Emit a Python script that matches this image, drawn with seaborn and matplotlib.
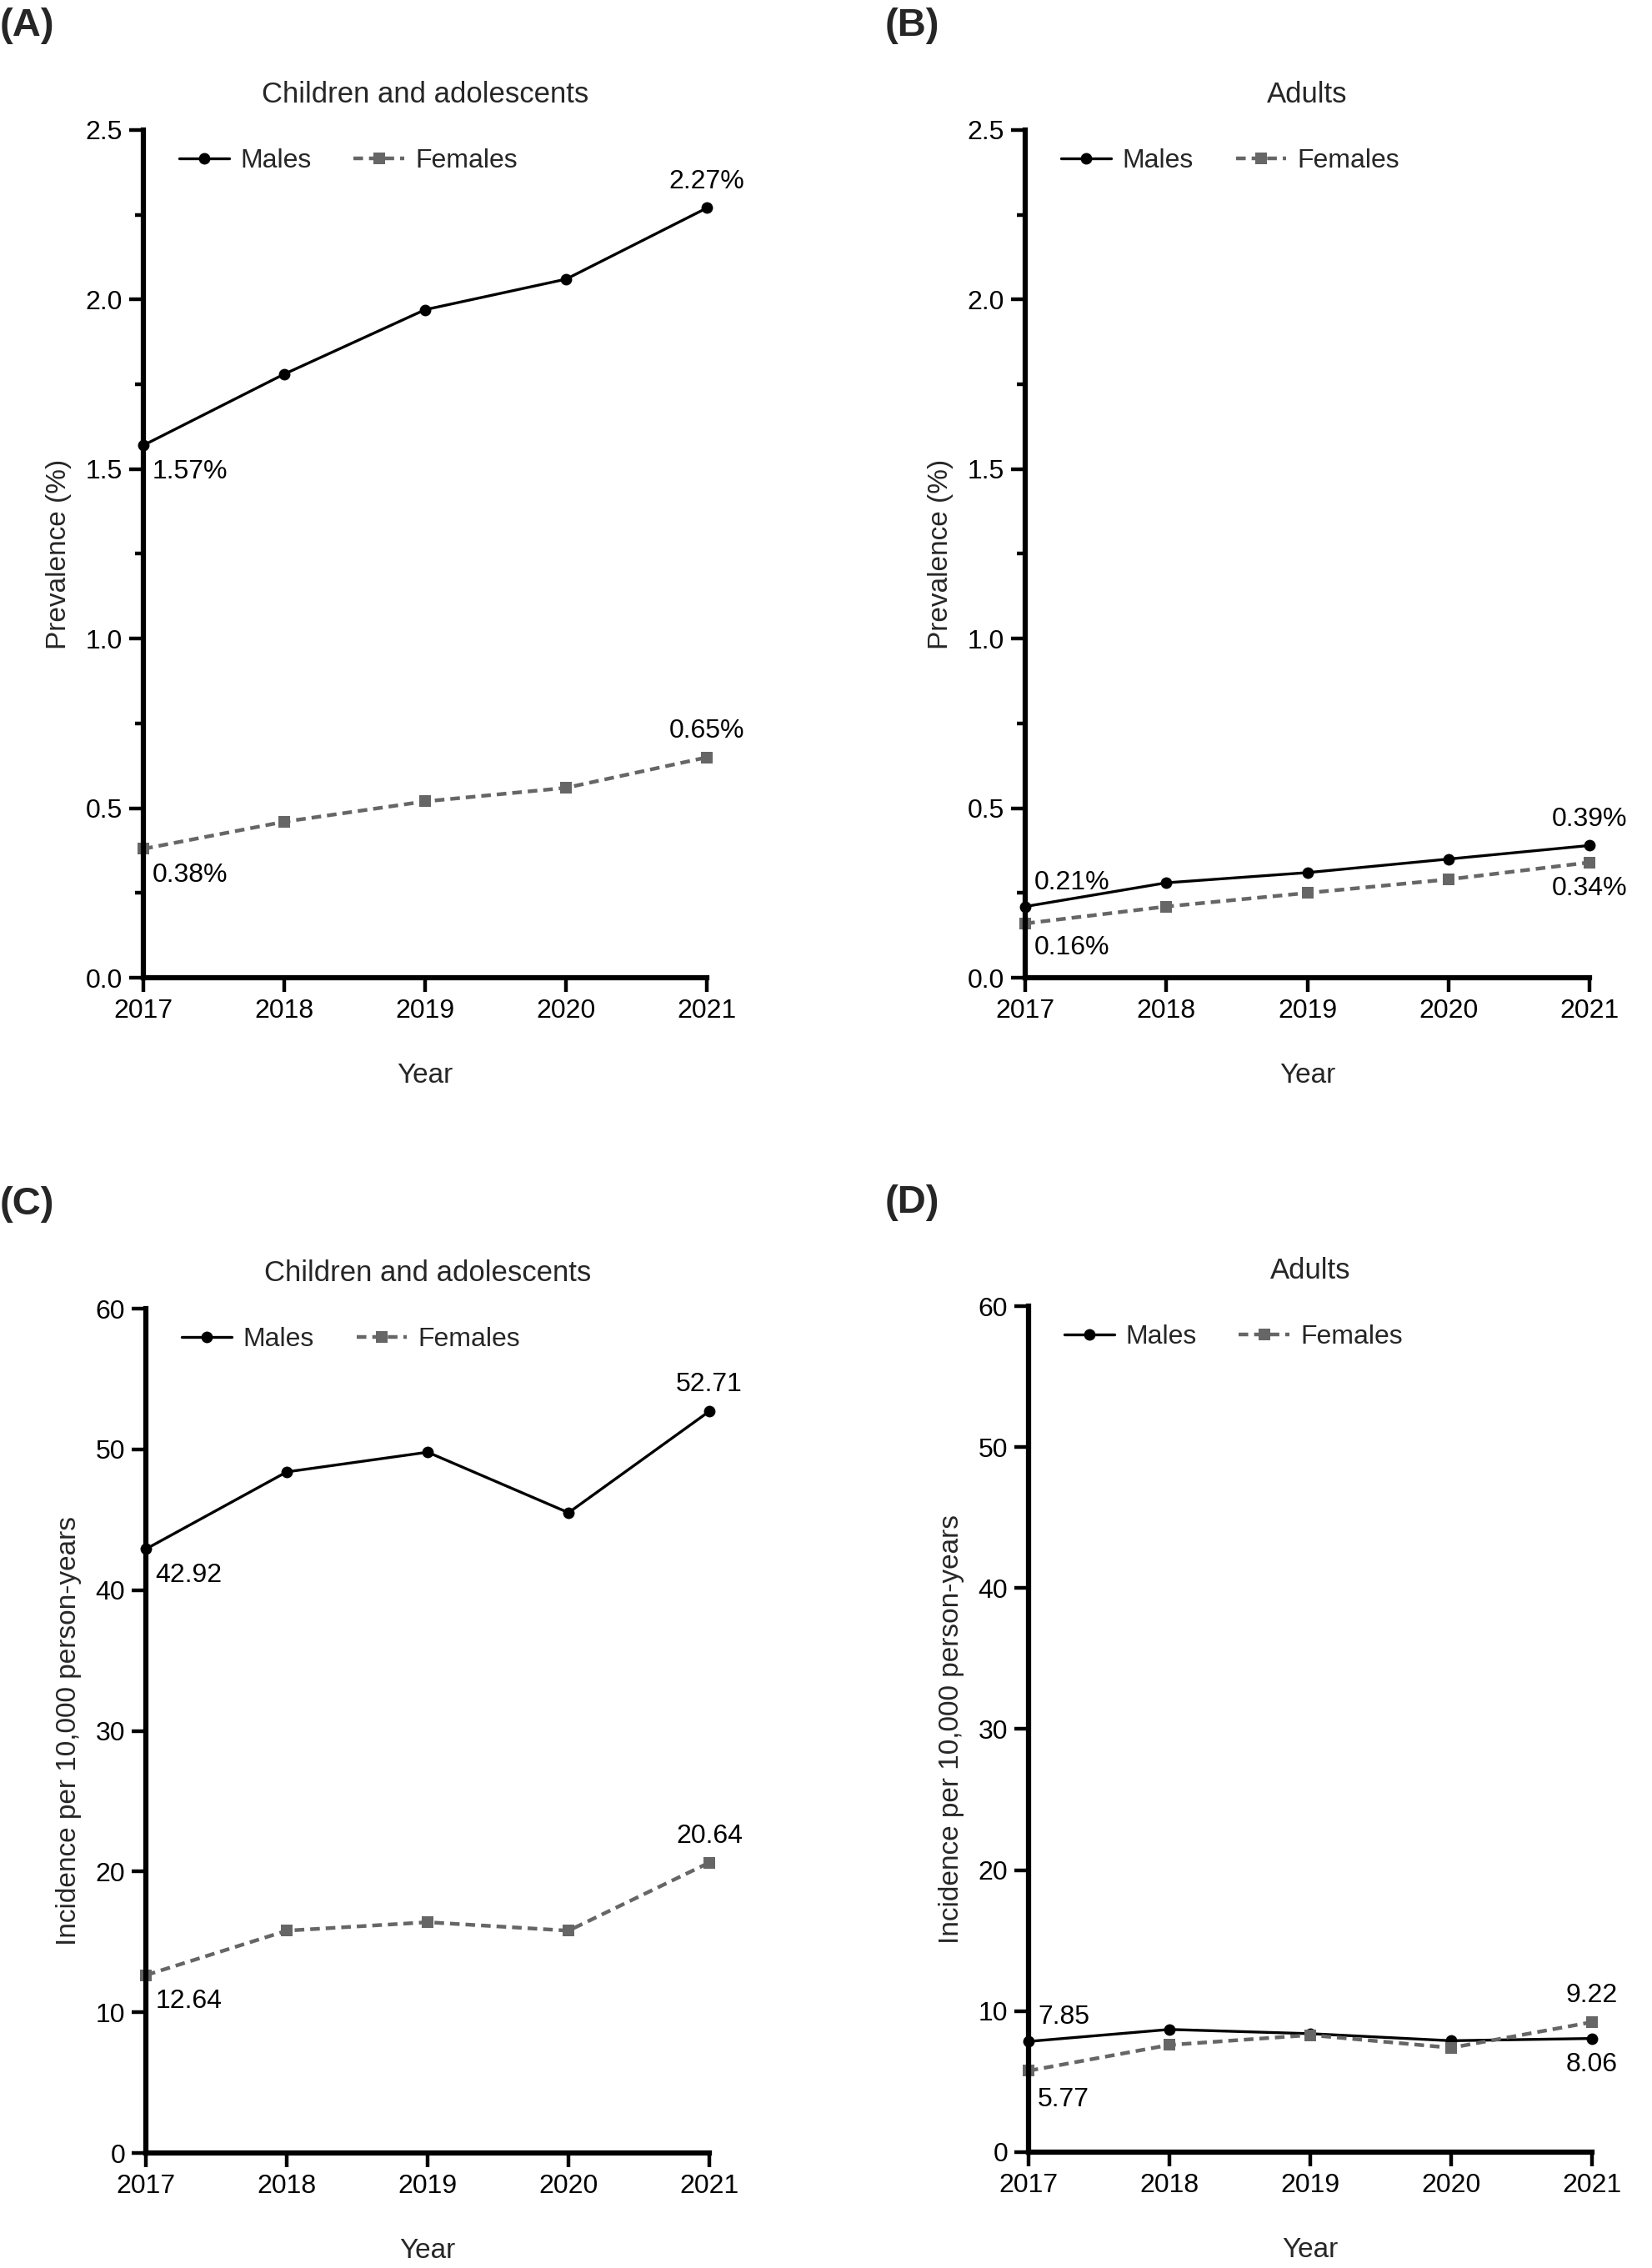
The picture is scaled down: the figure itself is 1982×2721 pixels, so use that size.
import matplotlib
matplotlib.use("Agg")
import matplotlib.pyplot as plt
import seaborn as sns
import pandas as pd
from matplotlib.ticker import MultipleLocator

years = [2017, 2018, 2019, 2020, 2021]

prev_child_males = [1.57, 1.78, 1.97, 2.06, 2.27]
prev_child_females = [0.38, 0.46, 0.52, 0.56, 0.65]
prev_adult_males = [0.21, 0.28, 0.31, 0.35, 0.39]
prev_adult_females = [0.16, 0.21, 0.25, 0.29, 0.34]
inc_child_males = [42.92, 48.4, 49.8, 45.5, 52.71]
inc_child_females = [12.64, 15.8, 16.4, 15.8, 20.64]
inc_adult_males = [7.85, 8.7, 8.4, 7.9, 8.06]
inc_adult_females = [5.77, 7.6, 8.3, 7.4, 9.22]

panel_labels = ["(A)", "(B)", "(C)", "(D)"]
titles = ["Children and adolescents", "Adults", "Children and adolescents", "Adults"]
ylabels = ["Prevalence (%)", "Prevalence (%)",
           "Incidence per 10,000 person-years", "Incidence per 10,000 person-years"]
series_names = ["Males", "Females"]

sns.set_style("ticks")
plt.rcParams['font.family'] = ['Liberation Sans', 'DejaVu Sans']

FS = 23
fig = plt.figure(figsize=(19.83, 27.21), dpi=100)

rects = [
    (0.0867, 0.5689, 0.3410, 0.3738),
    (0.6203, 0.5689, 0.3414, 0.3738),
    (0.0883, 0.0507, 0.3409, 0.3723),
    (0.6223, 0.0511, 0.3409, 0.3730),
]
label_pos = [(0.0, 0.9886), (0.5355, 0.9886), (0.0, 0.4690), (0.5355, 0.4697)]

panels = [
    (prev_child_males, prev_child_females, "%", (0, 2.5), 0.5, 0.25,
     [(8, -12, 'left', 'top'), (0, 12, 'center', 'bottom')],
     [(8, -12, 'left', 'top'), (0, 12, 'center', 'bottom')]),
    (prev_adult_males, prev_adult_females, "%", (0, 2.5), 0.5, 0.25,
     [(8, 10, 'left', 'bottom'), (0, 12, 'center', 'bottom')],
     [(8, -10, 'left', 'top'), (0, -12, 'center', 'top')]),
    (inc_child_males, inc_child_females, "", (0, 60), 10, None,
     [(8, -12, 'left', 'top'), (0, 12, 'center', 'bottom')],
     [(8, -12, 'left', 'top'), (0, 12, 'center', 'bottom')]),
    (inc_adult_males, inc_adult_females, "", (0, 60), 10, None,
     [(8, 10, 'left', 'bottom'), (0, -12, 'center', 'top')],
     [(8, -14, 'left', 'top'), (0, 12, 'center', 'bottom')]),
]

male_color = "black"
female_color = "#666666"

for i, (m, f, suffix, ylim, major, minor, m_ann, f_ann) in enumerate(panels):
    ax = fig.add_axes(rects[i])
    dm = pd.DataFrame({"Year": years, "value": m})
    dfm = pd.DataFrame({"Year": years, "value": f})
    sns.lineplot(data=dm, x="Year", y="value", color=male_color, marker="o",
                 markersize=10, markeredgewidth=0, linewidth=2.4,
                 ax=ax, clip_on=False, label=series_names[0])
    sns.lineplot(data=dfm, x="Year", y="value", color=female_color, marker="s",
                 markersize=10, markeredgewidth=0, linewidth=3.2,
                 dashes=(2.6, 1.6), ax=ax, clip_on=False, label=series_names[1])
    ax.set_xlim(2017, 2021)
    ax.set_ylim(*ylim)
    ax.set_xticks(years)
    ax.set_xticklabels([str(y) for y in years])
    ax.yaxis.set_major_locator(MultipleLocator(major))
    if minor:
        ax.yaxis.set_minor_locator(MultipleLocator(minor))
        ax.yaxis.set_major_formatter(matplotlib.ticker.FormatStrFormatter('%.1f'))
    sns.despine(ax=ax)
    for s in ["left", "bottom"]:
        ax.spines[s].set_linewidth(4.5)
        ax.spines[s].set_color("black")
    ax.tick_params(axis='both', which='major', width=3.2, length=12, labelsize=FS,
                   color='black', labelcolor='black', pad=6)
    ax.tick_params(axis='y', which='minor', width=3.2, length=7, color='black')
    ax.set_xlabel("Year", fontsize=FS + 1, labelpad=34)
    ax.set_ylabel(ylabels[i], fontsize=FS + 1, labelpad=12)
    ax.set_title(titles[i], fontsize=FS + 2, pad=24)

    for vals, anns in ((m, m_ann), (f, f_ann)):
        for idx, (dx, dy, ha, va) in zip((0, -1), anns):
            ax.annotate(f"{vals[idx]:.2f}{suffix}", (years[idx], vals[idx]),
                        xytext=(dx, dy), textcoords="offset points",
                        ha=ha, va=va, fontsize=FS, color="black")

    ax.legend(title=None, loc="upper left", ncol=2, frameon=False,
              fontsize=FS, handlelength=1.9, columnspacing=1.6,
              handletextpad=0.4, bbox_to_anchor=(0.03, 1.0),
              borderaxespad=0.3)
    fig.text(label_pos[i][0], label_pos[i][1], panel_labels[i], fontsize=34,
             fontweight="bold", ha="left", va="center")

fig.savefig("out.png", dpi=100, facecolor="white")
